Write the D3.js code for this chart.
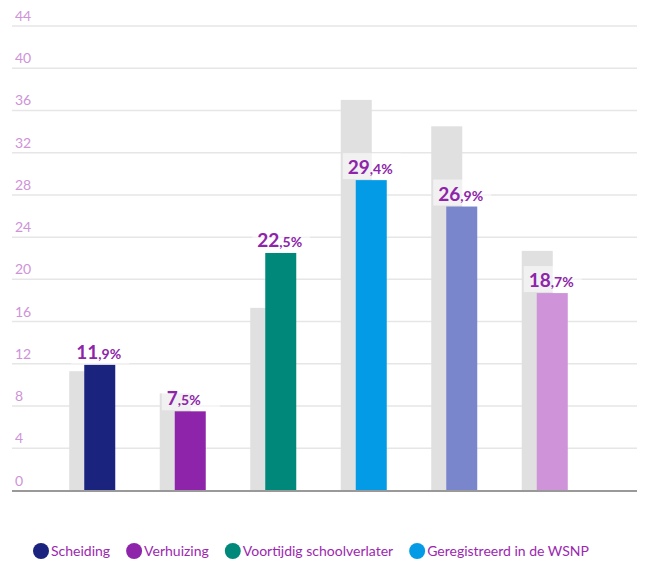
<!DOCTYPE html>
<html lang="nl">
<head>
    <meta charset="UTF-8">
    <title>Staafdiagram</title>
    <script src="https://d3js.org/d3.v7.min.js"></script>
    <style>
        body { margin: 0; background: #fff; }
        svg { font-family: "Source Sans Pro", Lato, "Open Sans", sans-serif; }
        .tick-label { fill: #ce93d8; font-size: 14px; }
        .grid line { stroke: #e6e6e6; stroke-width: 1.5; }
        .value-label { fill: #8e24aa; font-weight: bold; }
        .legend-text { fill: #9c27b0; font-size: 14px; }
    </style>
</head>
<body>
<script>
    // data
    const categories = ["Scheiding", "Verhuizing", "Voortijdig schoolverlater", "Geregistreerd in de WSNP", "Cat5", "Cat6"];
    const values = [11.9, 7.5, 22.5, 29.4, 26.9, 18.7];
    const compareValues = [11.3, 9.2, 17.3, 37.0, 34.5, 22.7];
    const colors = ["#1a237e", "#8e24aa", "#00897b", "#039be5", "#7986cb", "#ce93d8"];
    const yTicks = [0, 4, 8, 12, 16, 20, 24, 28, 32, 36, 40, 44];
    const legendItems = ["Scheiding", "Verhuizing", "Voortijdig schoolverlater", "Geregistreerd in de WSNP"];

    const width = 645, height = 565;
    const margin = { left: 12, right: 8, top: 26, bottom: 74 };

    const svg = d3.select("body").append("svg")
        .attr("width", width)
        .attr("height", height);

    const y = d3.scaleLinear()
        .domain([0, 44])
        .range([height - margin.bottom - 0.5, margin.top]);

    const x = d3.scaleBand()
        .domain(categories)
        .range([47, 590])
        .padding(0);

    const barW = 31, offset = 15;

    // grid lines
    const grid = svg.append("g").attr("class", "grid");
    grid.selectAll("line")
        .data(yTicks.filter(d => d > 0))
        .enter().append("line")
        .attr("x1", margin.left)
        .attr("x2", width - margin.right)
        .attr("y1", d => y(d))
        .attr("y2", d => y(d));

    // tick labels above grid lines
    svg.append("g").selectAll("text")
        .data(yTicks)
        .enter().append("text")
        .attr("class", "tick-label")
        .attr("x", 15)
        .attr("y", d => y(d) - 5)
        .text(d => d);

    const groupStart = d => x(d) + x.bandwidth() / 2 - (barW + offset) / 2;

    // comparison bars (grey)
    svg.append("g").selectAll("rect")
        .data(categories)
        .enter().append("rect")
        .attr("x", d => groupStart(d))
        .attr("y", (d, i) => y(compareValues[i]))
        .attr("width", barW)
        .attr("height", (d, i) => y(0) - y(compareValues[i]))
        .attr("fill", "#e0e0e0");

    // main bars
    svg.append("g").selectAll("rect")
        .data(categories)
        .enter().append("rect")
        .attr("x", d => groupStart(d) + offset)
        .attr("y", (d, i) => y(values[i]))
        .attr("width", barW)
        .attr("height", (d, i) => y(0) - y(values[i]))
        .attr("fill", (d, i) => colors[i]);

    // baseline
    svg.append("line")
        .attr("x1", margin.left)
        .attr("x2", width - margin.right)
        .attr("y1", y(0) + 0.5)
        .attr("y2", y(0) + 0.5)
        .attr("stroke", "#999")
        .attr("stroke-width", 2);

    // value labels
    const labels = svg.append("g").selectAll("g")
        .data(categories)
        .enter().append("g")
        .attr("transform", (d, i) => `translate(${groupStart(d)},${y(values[i])})`);

    labels.append("rect")
        .attr("x", 2)
        .attr("y", -27)
        .attr("width", 58)
        .attr("height", 26)
        .attr("fill", "#fff")
        .attr("opacity", 0.55);

    const txt = labels.append("text")
        .attr("class", "value-label")
        .attr("x", 7)
        .attr("y", -6);
    txt.append("tspan")
        .attr("font-size", 19)
        .text((d, i) => Math.floor(values[i]));
    txt.append("tspan")
        .attr("font-size", 14)
        .text((d, i) => "," + Math.round((values[i] % 1) * 10) + "%");

    // legend
    const legend = svg.append("g").attr("transform", "translate(0,551)");
    let lx = 33;
    legendItems.forEach((name, i) => {
        const g = legend.append("g").attr("transform", `translate(${lx},0)`);
        g.append("circle")
            .attr("cx", 8)
            .attr("cy", 0)
            .attr("r", 8)
            .attr("fill", colors[i]);
        const t = g.append("text")
            .attr("class", "legend-text")
            .attr("x", 18)
            .attr("dy", "0.35em")
            .text(name);
        lx += 18 + t.node().getComputedTextLength() + 16;
    });
</script>
</body>
</html>
